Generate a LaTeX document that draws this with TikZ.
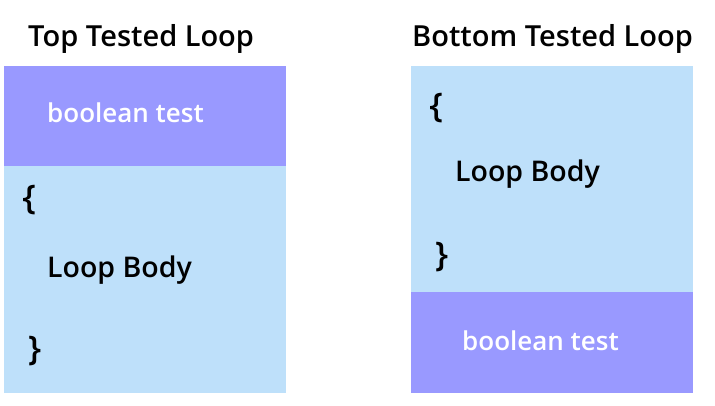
\documentclass[tikz,border=0pt]{standalone}
\usepackage{fontspec}
\setmainfont{Open Sans}[BoldFont={Open Sans Semibold}]
\usetikzlibrary{positioning}
\definecolor{testcol}{RGB}{153,153,255}
\definecolor{bodycol}{RGB}{190,224,250}

\begin{document}
\begin{tikzpicture}[x=1pt,y=1pt,
    title/.style={font=\fontsize{29}{34}\selectfont\bfseries,anchor=base west,inner sep=0pt},
    bodytext/.style={font=\fontsize{28.5}{34}\selectfont\bfseries,anchor=base west,inner sep=0pt},
    testtext/.style={font=\fontsize{26}{31}\selectfont\bfseries,anchor=base west,inner sep=0pt,text=white},
    brace/.style={font=\fontsize{34}{39}\selectfont\bfseries,inner sep=0pt}]
  \useasboundingbox (0,0) rectangle (715,405);
  \begin{scope}[minimum width=282pt,inner sep=0pt]
      \tikzstyle{every node}=[draw=none]
      \node[fill=testcol,minimum height=100pt] (test1) at (145,289)   {};
      \node[fill=bodycol,minimum height=227pt] (body1) at (145,125.5) {};
      \node[fill=bodycol,minimum height=226pt] (body2) at (552,226)   {};
      \node[fill=testcol,minimum height=101pt] (test2) at (552,62.5)  {};
  \end{scope}

  \node[title] (top_lab) at (28,358)  {Top Tested Loop};
  \node[title] (bot_lab) at (412,358) {Bottom Tested Loop};

  \node[testtext] (test1_lab) at (47,282)  {boolean test};
  \node[testtext] (test2_lab) at (462,55)  {boolean test};

  \node[brace]    (open1)  at (29,205)  {\{};
  \node[bodytext] (loop1)  at (47,128)  {Loop Body};
  \node[brace]    (close1) at (35,54)   {\}};

  \node[brace]    (open2)  at (436,297) {\{};
  \node[bodytext] (loop2)  at (455,223) {Loop Body};
  \node[brace]    (close2) at (442,148) {\}};
\end{tikzpicture}
\end{document}
